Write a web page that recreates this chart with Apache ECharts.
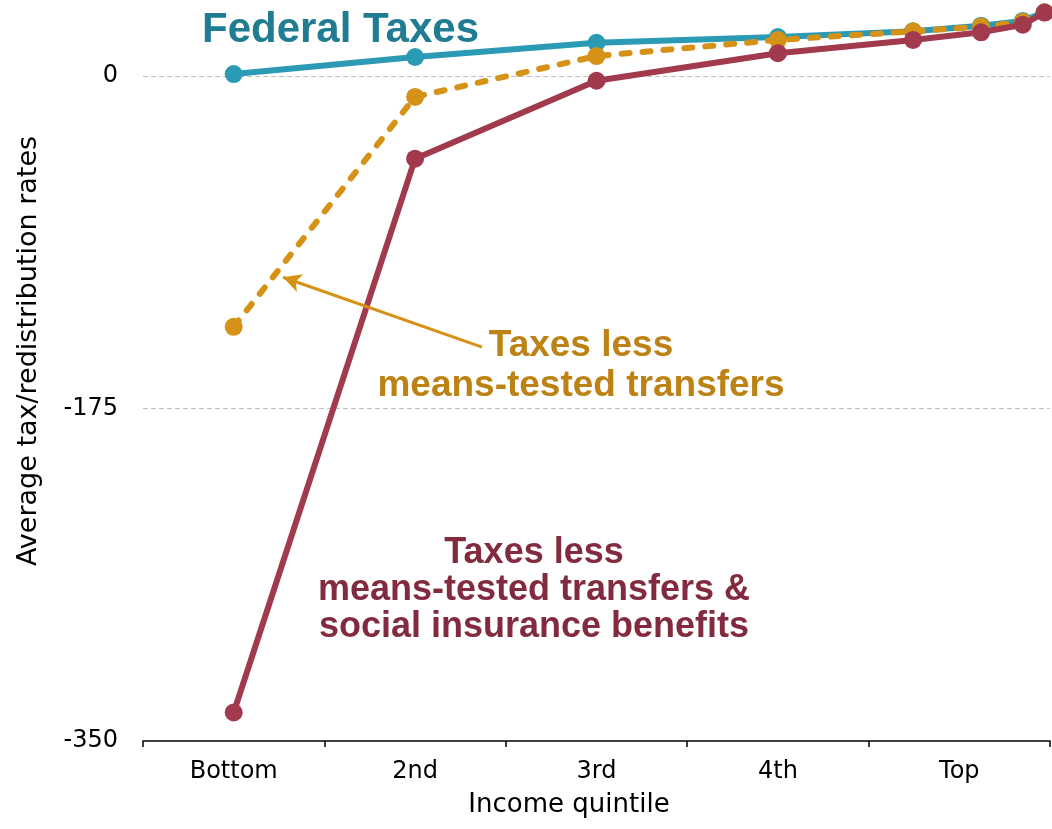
<!DOCTYPE html>
<html><head><meta charset="utf-8">
<script src="https://cdn.jsdelivr.net/npm/echarts@6/dist/echarts.min.js"></script>
<style>html,body{margin:0;padding:0;background:#fff}#c{width:1052px;height:829px}</style>
</head><body><div id="c"></div>
<script>
// Categories (tick labels) and data
const quintiles = ['Bottom', '2nd', '3rd', '4th', 'Top'];
// x positions in quintile units: quintile centres, then top-quintile subgroups (81-90, 91-95, 96-99, top 1%)
const xPositions = [0.5, 1.5, 2.5, 3.5, 4.245, 4.62, 4.85, 4.97];
const federalTaxes = [1, 10, 17.5, 20.5, 23.5, 26.5, 29, 33.5];
const lessMeansTested = [-132, -11, 10.5, 19, 23.5, 26, 28.5, 33.5];
const lessMeansTestedAndSocial = [-335, -43.5, -2.5, 12, 19, 23, 27, 33.4];
const yMin = -350, yMax = 40, yInterval = 175;
// arrow annotation (data coordinates): tail -> tip
const arrowTail = [1.869, -142.7];
const arrowTip = [0.772, -105.9];

const teal = '#2B9AB4', orange = '#D69216', red = '#A03A4C';
const pts = vals => xPositions.map((x, i) => [x, vals[i]]);

const chart = echarts.init(document.getElementById('c'));
chart.setOption({
  animation: false,
  backgroundColor: '#fff',
  grid: { left: 143, right: 2, top: 0, bottom: 88, containLabel: false },
  xAxis: [
    {
      type: 'category', data: quintiles, boundaryGap: true,
      axisLine: { show: true, onZero: false, lineStyle: { color: '#000', width: 1.5 } },
      axisTick: { show: true, alignWithLabel: false, interval: 0, length: 6, lineStyle: { color: '#000', width: 1.5 } },
      axisLabel: { interval: 0, color: '#000', fontFamily: 'DejaVu Sans', fontSize: 24, margin: 19 },
      splitLine: { show: false }
    },
    { type: 'value', min: 0, max: 5, show: false }
  ],
  yAxis: {
    type: 'value', min: yMin, max: yMax, interval: yInterval,
    axisLine: { show: false }, axisTick: { show: false },
    axisLabel: { color: '#000', fontFamily: 'DejaVu Sans', fontSize: 24, margin: 25, showMaxLabel: false },
    splitLine: { show: true, showMaxLine: false, showMinLine: false, lineStyle: { color: '#BFBFBF', width: 1, type: [5, 3] } }
  },
  series: [
    {
      name: 'Federal Taxes', type: 'line', xAxisIndex: 1, data: pts(federalTaxes),
      symbol: 'circle', symbolSize: 18, lineStyle: { color: teal, width: 6 }, itemStyle: { color: teal }, z: 2
    },
    {
      name: 'Taxes less means-tested transfers', type: 'line', xAxisIndex: 1, data: pts(lessMeansTested),
      symbol: 'circle', symbolSize: 18, lineStyle: { color: orange, width: 6, type: [8, 13], cap: 'round' }, itemStyle: { color: orange }, z: 3,
      markLine: {
        silent: true, animation: false, symbol: ['none', 'arrow'], symbolSize: [14, 18],
        label: { show: false },
        lineStyle: { color: orange, width: 3, type: 'solid' },
        data: [[{ coord: arrowTail }, { coord: arrowTip }]]
      }
    },
    {
      name: 'Taxes less means-tested transfers & social insurance benefits', type: 'line', xAxisIndex: 1, data: pts(lessMeansTestedAndSocial),
      symbol: 'circle', symbolSize: 18, lineStyle: { color: red, width: 6 }, itemStyle: { color: red }, z: 4
    }
  ],
  graphic: [
    { type: 'text', left: 202, top: 9, style: { text: 'Federal Taxes', font: 'bold 42px "Liberation Sans", Arial', fill: '#207C92' } },
    { type: 'text', x: 581, y: 366, style: { text: 'Taxes less\nmeans-tested transfers', font: 'bold 37px "Liberation Sans", Arial', fill: '#BD8214', align: 'center', verticalAlign: 'middle', lineHeight: 40 } },
    { type: 'text', x: 534, y: 590, style: { text: 'Taxes less\nmeans-tested transfers &\nsocial insurance benefits', font: 'bold 36px "Liberation Sans", Arial', fill: '#832B3E', align: 'center', verticalAlign: 'middle', lineHeight: 37 } },
    { type: 'text', x: 29, y: 351, rotation: Math.PI / 2, style: { text: 'Average tax/redistribution rates', font: '27px "DejaVu Sans"', fill: '#000', align: 'center', verticalAlign: 'middle' } },
    { type: 'text', x: 569, y: 805, style: { text: 'Income quintile', font: '26px "DejaVu Sans"', fill: '#000', align: 'center', verticalAlign: 'middle' } }
  ]
});
</script></body></html>
